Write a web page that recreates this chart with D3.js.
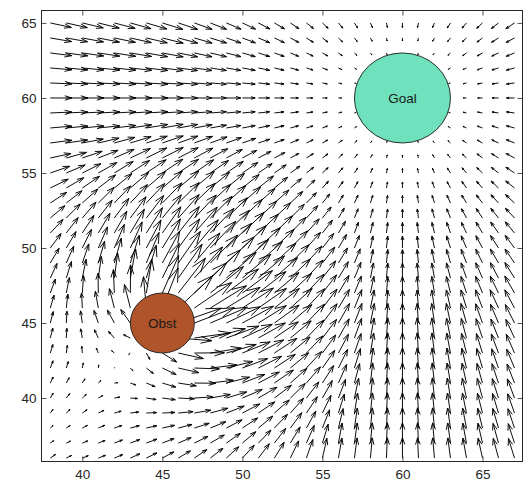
<!DOCTYPE html>
<html>
<head>
<meta charset="utf-8">
<script src="https://cdn.jsdelivr.net/npm/d3@7"></script>
<style>
  html, body { margin: 0; padding: 0; background: #ffffff; }
  svg { display: block; }
  text { font-family: "Liberation Sans", Arial, Helvetica, sans-serif; }
</style>
</head>
<body>
<svg id="chart" width="528" height="482"></svg>
<script>
// ---- Data ----
const xValues = [38,39,40,41,42,43,44,45,46,47,48,49,50,51,52,53,54,55,56,57,58,59,60,61,62,63,64,65,66,67];
const yValues = [36,37,38,39,40,41,42,43,44,45,46,47,48,49,50,51,52,53,54,55,56,57,58,59,60,61,62,63,64,65];
const xTicks = [40,45,50,55,60,65];
const yTicks = [40,45,50,55,60,65];
const goalCenter = [60, 60];
const goalRadius = 3;
const obstacleCenter = [45, 45];
const obstacleRadius = 2;
const labels = ["Goal", "Obst"];
// potential-field gains
const attractGain = [0.1, 2, 1.35];     // slope, offset, cap
const repelGain = [0.14, 13.5];          // slope, range
const shadowGain = [0.7, 11, 8];         // strength, distance, width

// ---- Field (attraction to goal + repulsion from obstacle) ----
function fieldAt(px, py) {
  const gx = goalCenter[0] - px, gy = goalCenter[1] - py;
  const dg = Math.hypot(gx, gy);
  let u = 0, v = 0;
  if (dg > goalRadius) {
    const a = Math.min(attractGain[0] * (dg - attractGain[1]), attractGain[2]);
    u += a * gx / dg; v += a * gy / dg;
  }
  const ox = px - obstacleCenter[0], oy = py - obstacleCenter[1];
  const d0 = Math.hypot(ox, oy);
  if (d0 > 0) {
    let r = d0 < repelGain[1] ? repelGain[0] * (repelGain[1] - d0) : 0;
    const bx = obstacleCenter[0] - goalCenter[0], by = obstacleCenter[1] - goalCenter[1];
    const c = Math.max(0, (bx * ox + by * oy) / (Math.hypot(bx, by) * d0));
    r += shadowGain[0] * Math.exp(-Math.pow(d0 - shadowGain[1], 2) / shadowGain[2]) * Math.pow(c, 4);
    u += r * ox / d0; v += r * oy / d0;
  }
  return [u, v];
}

const vectors = [];
yValues.forEach(yy => xValues.forEach(xx => {
  const [u, v] = fieldAt(xx, yy);
  vectors.push({x: xx, y: yy, u, v});
}));

// ---- Chart ----
const svg = d3.select("#chart");
const pL = 41.5, pR = 522.5, pT = 10.5, pB = 461.5;
const x = d3.scaleLinear().domain([37.45, 67.5]).range([pL, pR]);
const y = d3.scaleLinear().domain([35.77, 65.83]).range([pB, pT]);

svg.append("defs").append("clipPath").attr("id", "clip")
  .append("rect").attr("x", pL).attr("y", pT).attr("width", pR - pL).attr("height", pB - pT);

const plot = svg.append("g").attr("clip-path", "url(#clip)");

// arrows in MATLAB quiver style
const alpha = 0.33, beta = 0.33;
const path = d3.path();
vectors.forEach(d => {
  const tx = d.x + d.u, ty = d.y + d.v;
  path.moveTo(x(d.x), y(d.y));
  path.lineTo(x(tx), y(ty));
  path.moveTo(x(tx - alpha * (d.u + beta * d.v)), y(ty - alpha * (d.v - beta * d.u)));
  path.lineTo(x(tx), y(ty));
  path.lineTo(x(tx - alpha * (d.u - beta * d.v)), y(ty - alpha * (d.v + beta * d.u)));
});
plot.append("path").attr("d", path.toString())
  .attr("fill", "none").attr("stroke", "#000").attr("stroke-width", 0.95)
  .attr("stroke-linejoin", "miter");

// goal and obstacle
const discs = [
  {c: goalCenter, r: goalRadius, fill: "#6fe2bd", label: labels[0]},
  {c: obstacleCenter, r: obstacleRadius, fill: "#b0542b", label: labels[1]}
];
discs.forEach(dsc => {
  plot.append("ellipse")
    .attr("cx", x(dsc.c[0])).attr("cy", y(dsc.c[1]))
    .attr("rx", x(dsc.c[0] + dsc.r) - x(dsc.c[0]))
    .attr("ry", y(dsc.c[1]) - y(dsc.c[1] + dsc.r))
    .attr("fill", dsc.fill).attr("stroke", "#1a1a1a").attr("stroke-width", 0.9);
  plot.append("text")
    .attr("x", x(dsc.c[0])).attr("y", y(dsc.c[1]))
    .attr("dy", "0.35em").attr("text-anchor", "middle")
    .attr("font-size", 13.5).attr("fill", "#1a1a1a")
    .text(dsc.label);
});

// axes
const axisColor = "#262626";
function styleAxis(g) {
  g.select(".domain").remove();
  g.selectAll("line").attr("stroke", axisColor).attr("stroke-width", 0.8);
  g.selectAll("text").attr("fill", axisColor).attr("font-size", 13.5)
    .style("font-family", '"Liberation Sans", Arial, sans-serif');
}
svg.append("g").attr("transform", `translate(0,${pB})`)
  .call(d3.axisBottom(x).tickValues(xTicks).tickSize(-5).tickPadding(8).tickFormat(d3.format("d")))
  .call(styleAxis);
svg.append("g").attr("transform", `translate(0,${pT})`)
  .call(d3.axisTop(x).tickValues(xTicks).tickSize(-5).tickFormat(""))
  .call(styleAxis);
svg.append("g").attr("transform", `translate(${pL},0)`)
  .call(d3.axisLeft(y).tickValues(yTicks).tickSize(-5).tickPadding(5).tickFormat(d3.format("d")))
  .call(styleAxis);
svg.append("g").attr("transform", `translate(${pR},0)`)
  .call(d3.axisRight(y).tickValues(yTicks).tickSize(-5).tickFormat(""))
  .call(styleAxis);

svg.append("rect").attr("x", pL).attr("y", pT)
  .attr("width", pR - pL).attr("height", pB - pT)
  .attr("fill", "none").attr("stroke", axisColor).attr("stroke-width", 1);
</script>
</body>
</html>
